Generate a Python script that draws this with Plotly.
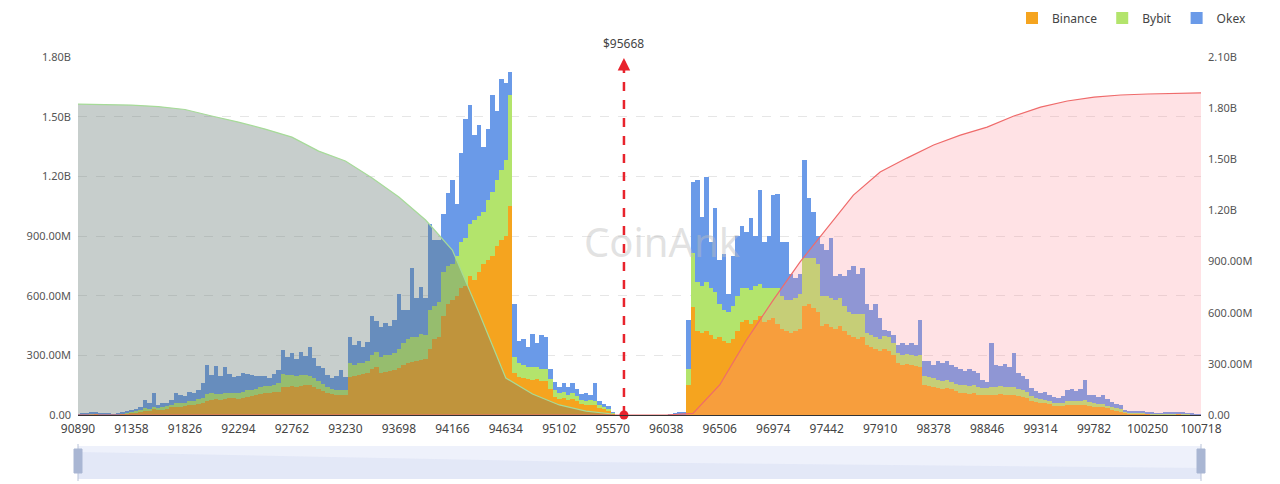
import plotly.graph_objects as go

# ---------------- data ----------------
PRICE_START = 90890
PRICE_STEP = 39
TICK_STEP = 468
N_TICKS = 22
CURRENT_PRICE = 95668

# liquidation volume per price bin, in millions USD
binance = [
    2, 3, 3, 5, 6, 4, 3, 3, 2, 3,
    6, 9, 12, 15, 18, 25, 24, 28, 26, 30,
    32, 38, 42, 42, 44, 48, 50, 55, 60, 72,
    75, 78, 76, 82, 84, 84, 82, 88, 92, 95,
    100, 108, 110, 112, 114, 118, 140, 142, 145, 140,
    148, 150, 150, 140, 130, 120, 110, 105, 100, 102,
    100, 190, 195, 200, 205, 210, 230, 240, 210, 215,
    220, 225, 235, 250, 260, 265, 270, 275, 280, 330,
    380, 390, 500, 560, 580, 600, 640, 650, 700, 680,
    720, 760, 780, 800, 850, 880, 900, 1050, 210, 190,
    185, 180, 175, 180, 170, 170, 130, 90, 80, 85,
    75, 80, 70, 55, 50, 52, 48, 35, 30, 22,
    8, 0, 0, 0, 0, 0, 0, 0, 0, 0,
    0, 0, 0, 1, 1, 3, 3, 150, 543, 420,
    410, 420, 400, 380, 390, 370, 360, 380, 420, 470,
    480, 460, 480, 500, 470, 480, 490, 460, 430, 420,
    410, 420, 430, 550, 560, 540, 520, 450, 460, 440,
    430, 450, 420, 400, 390, 380, 390, 350, 340, 330,
    320, 330, 320, 300, 260, 250, 255, 250, 245, 240,
    150, 145, 140, 135, 130, 135, 130, 120, 110, 110,
    105, 110, 100, 100, 100, 100, 100, 105, 100, 100,
    100, 95, 90, 85, 70, 65, 60, 60, 55, 45,
    45, 45, 50, 50, 48, 50, 50, 45, 40, 40,
    38, 35, 30, 25, 20, 12, 10, 9, 8, 8,
    6, 5, 4, 4, 5, 5, 5, 6, 5, 4,
    3, 2, 1,
]
bybit = [
    1, 1, 1, 2, 2, 1, 1, 1, 1, 1,
    2, 3, 4, 5, 6, 8, 8, 12, 9, 10,
    11, 14, 16, 16, 18, 20, 22, 24, 28, 32,
    34, 30, 32, 30, 28, 25, 28, 30, 32, 33,
    32, 34, 35, 34, 38, 42, 65, 60, 58, 55,
    52, 50, 48, 45, 40, 35, 30, 25, 26, 26,
    26, 70, 55, 60, 55, 60, 70, 75, 80, 85,
    80, 85, 95, 110, 120, 125, 120, 130, 120, 200,
    170, 180, 220, 190, 180, 200, 230, 240, 260, 300,
    280, 260, 300, 320, 330, 350, 380, 560, 80, 70,
    65, 60, 65, 60, 60, 60, 50, 35, 30, 30,
    28, 30, 25, 22, 20, 22, 20, 15, 12, 10,
    3, 0, 0, 0, 0, 0, 0, 0, 0, 0,
    0, 0, 0, 0.5, 1, 2, 2, 80, 271, 250,
    240, 250, 240, 240, 170, 160, 160, 170, 180, 170,
    160, 170, 170, 160, 170, 160, 150, 180, 170, 160,
    170, 170, 180, 240, 230, 250, 240, 150, 140, 150,
    150, 140, 130, 120, 120, 130, 120, 60, 60, 60,
    60, 65, 70, 60, 50, 50, 50, 50, 50, 60,
    45, 45, 45, 40, 40, 40, 35, 35, 40, 40,
    40, 40, 40, 35, 35, 40, 40, 40, 40, 40,
    40, 35, 35, 30, 25, 20, 20, 15, 15, 15,
    15, 15, 20, 22, 22, 20, 25, 20, 18, 15,
    15, 12, 10, 10, 8, 5, 4, 4, 3, 3,
    3, 2, 2, 2, 2, 2, 3, 3, 4, 2,
    2, 1, 1,
]
okex = [
    1, 2, 3, 5, 5, 3, 3, 2, 2, 2,
    5, 8, 10, 12, 15, 42, 26, 69, 15, 18,
    19, 23, 54, 42, 36, 49, 38, 47, 71, 146,
    91, 137, 87, 128, 93, 84, 88, 92, 80, 72,
    62, 55, 50, 40, 55, 66, 120, 90, 110, 85,
    115, 95, 142, 100, 75, 80, 60, 55, 68, 98,
    64, 130, 100, 110, 80, 95, 200, 160, 150, 165,
    150, 170, 280, 170, 150, 350, 200, 240, 190, 430,
    330, 310, 293, 364, 420, 260, 445, 600, 600, 430,
    460, 330, 360, 490, 350, 460, 390, 115, 270, 110,
    130, 100, 165, 120, 170, 160, 50, 40, 30, 45,
    37, 50, 35, 28, 40, 26, 95, 20, 15, 12,
    2, 0, 0, 0, 0, 0, 0, 0, 0, 0,
    0, 0, 0, 3, 4, 8, 8, 250, 357, 510,
    345, 526, 230, 420, 220, 280, 90, 250, 300, 310,
    280, 360, 250, 470, 230, 260, 465, 470, 270, 290,
    130, 100, 100, 490, 300, 230, 140, 260, 230, 300,
    120, 120, 150, 210, 240, 200, 230, 150, 130, 170,
    110, 30, 30, 40, 40, 60, 45, 60, 55, 180,
    75, 80, 65, 95, 90, 95, 85, 85, 80, 70,
    85, 70, 70, 40, 30, 220, 110, 100, 115, 100,
    170, 80, 70, 65, 40, 35, 30, 40, 30, 30,
    25, 35, 55, 58, 50, 60, 100, 35, 45, 35,
    47, 33, 25, 20, 20, 8, 6, 6, 6, 5,
    4, 4, 3, 4, 4, 5, 4, 5, 4, 3,
    3, 2, 1,
]

# cumulative liquidation curves, in billions USD (right axis)
cum_long_price = [90890, 91124, 91358, 91592, 91826, 92060, 92294, 92528, 92762, 92996,
                  93230, 93464, 93698, 93932, 94166, 94400, 94634, 94868, 95102, 95336, 95570]
cum_long_value = [1.824, 1.821, 1.818, 1.809, 1.792, 1.754, 1.718, 1.677, 1.630, 1.548,
                  1.490, 1.390, 1.279, 1.144, 0.968, 0.600, 0.217, 0.123, 0.059, 0.023, 0.006]

cum_short_price = [90890, 96038, 96272, 96506, 96740, 96974, 97208, 97442, 97676, 97910, 98144,
                   98378, 98612, 98846, 99080, 99314, 99548, 99782, 100016, 100250, 100484, 100718]
cum_short_value = [0, 0, 0.010, 0.176, 0.440, 0.674, 0.897, 1.097, 1.290, 1.425, 1.507,
                   1.584, 1.642, 1.689, 1.754, 1.806, 1.842, 1.865, 1.877, 1.883, 1.886, 1.889]

left_ticks = [0, 300e6, 600e6, 900e6, 1200e6, 1500e6, 1800e6]
left_ticktext = ["0.00", "300.00M", "600.00M", "900.00M", "1.20B", "1.50B", "1.80B"]
right_ticks = [0, 300e6, 600e6, 900e6, 1200e6, 1500e6, 1800e6, 2100e6]
right_ticktext = ["0.00", "300.00M", "600.00M", "900.00M", "1.20B", "1.50B", "1.80B", "2.10B"]

assert len(binance) == len(bybit) == len(okex), (len(binance), len(bybit), len(okex))

# ---------------- figure ----------------
prices = [PRICE_START + PRICE_STEP * i for i in range(len(binance))]
x_ticks = [PRICE_START + TICK_STEP * k for k in range(N_TICKS)]
x_end = x_ticks[-1]

fig = go.Figure()
series = [("Binance", binance, "#F5A41F"), ("Bybit", bybit, "#B3E46C"), ("Okex", okex, "#6A9AE8")]
for name, vals, color in series:
    fig.add_bar(x=prices, y=[v * 1e6 for v in vals], name=name, marker_color=color,
                marker_line_width=0, width=PRICE_STEP, yaxis="y")

fig.add_scatter(x=cum_long_price, y=[v * 1e9 for v in cum_long_value], yaxis="y2",
                mode="lines", line=dict(color="#a6db98", width=1.2), fill="tozeroy",
                fillcolor="rgba(100,120,115,0.36)", showlegend=False, hoverinfo="skip")
fig.add_scatter(x=cum_short_price, y=[v * 1e9 for v in cum_short_value], yaxis="y2",
                mode="lines", line=dict(color="#ef6b6b", width=1.2), fill="tozeroy",
                fillcolor="rgba(255,140,150,0.25)", showlegend=False, hoverinfo="skip")
fig.add_scatter(x=[CURRENT_PRICE], y=[0], yaxis="y2", mode="markers",
                marker=dict(color="#e8232c", size=9), showlegend=False, cliponaxis=False,
                hoverinfo="skip")

# page pixel targets (the html body adds an 8px offset)
PAGE_OFF = 8
W, H = 1280, 484
PLOT_L, PLOT_R, TOP_PX, BOT_PX = 78, 1201, 57, 415
PLOT_H = BOT_PX - TOP_PX
PLOT_W = PLOT_R - PLOT_L


def py(px):
    return (BOT_PX - px) / PLOT_H


def pxx(px):
    return (px - PLOT_L) / PLOT_W


shapes = [
    # current price dashed line
    dict(type="line", xref="x", yref="paper", x0=CURRENT_PRICE, x1=CURRENT_PRICE,
         y0=0, y1=py(66), line=dict(color="#e8232c", width=2.5, dash="dash"), layer="above"),
    # data zoom slider background
    dict(type="rect", xref="paper", yref="paper", x0=0, x1=1, y0=py(446), y1=py(479),
         fillcolor="#eef1fb", line=dict(width=0), layer="below"),
    dict(type="path", xref="paper", yref="paper",
         path=f"M 0,{py(452)} L 0.45,{py(462)} L 1,{py(468)} L 1,{py(479)} L 0,{py(479)} Z",
         fillcolor="rgba(205,214,240,0.35)", line=dict(width=0), layer="below"),
]
for hx in (0, 1):
    shapes.append(dict(type="line", xref="paper", yref="paper", x0=hx, x1=hx,
                       y0=py(444), y1=py(481), line=dict(color="#b8c2d8", width=1)))
    shapes.append(dict(type="rect", xref="paper", yref="paper", xsizemode="pixel",
                       xanchor=hx, x0=-4, x1=4, y0=py(449), y1=py(473),
                       fillcolor="#a9b6d3", line=dict(color="#a9b6d3", width=1)))

annotations = [
    dict(x=CURRENT_PRICE, y=py(58), xref="x", yref="paper", text="", showarrow=True,
         arrowhead=2, arrowsize=1, arrowwidth=2.5, arrowcolor="#e8232c", ax=0, ay=14),
    dict(x=CURRENT_PRICE, y=py(43), xref="x", yref="paper", text=f"${CURRENT_PRICE}",
         showarrow=False, font=dict(size=12, color="#444"), yanchor="middle"),
    dict(x=pxx(662), y=py(242), xref="paper", yref="paper", text="CoinAnk",
         showarrow=False, font=dict(size=40, color="rgba(190,190,190,0.45)",
                                    family="Noto Sans"), yanchor="middle"),
]

fig.update_layout(
    width=W, height=H,
    margin=dict(l=PLOT_L - PAGE_OFF, r=W - (PLOT_R - PAGE_OFF), t=TOP_PX - PAGE_OFF,
                b=H - (BOT_PX - PAGE_OFF), autoexpand=False),
    paper_bgcolor="white", plot_bgcolor="white",
    barmode="stack", bargap=0,
    font=dict(family="Noto Sans", size=11, color="#555"),
    showlegend=True,
    legend=dict(orientation="h", x=pxx(1012), y=py(18), xanchor="left",
                yanchor="middle", traceorder="normal", font=dict(size=12, color="#444"),
                bgcolor="rgba(0,0,0,0)", itemwidth=30),
    xaxis=dict(range=[PRICE_START, x_end], tickvals=x_ticks, ticktext=[str(t) for t in x_ticks],
               showgrid=False, zeroline=False, showline=True, linecolor="#333", linewidth=1,
               ticks="", ticklabelstandoff=3, tickfont=dict(size=12, color="#444")),
    yaxis=dict(range=[0, 1.8e9], tickvals=left_ticks, ticktext=left_ticktext,
               showgrid=True, gridcolor="#e6e6e6", griddash="dash", zeroline=False,
               ticks="", ticklabelstandoff=6, tickfont=dict(size=11, color="#555")),
    yaxis2=dict(range=[0, 2.1e9], tickvals=right_ticks, ticktext=right_ticktext,
                overlaying="y", side="right", showgrid=False, zeroline=False,
                ticks="", ticklabelstandoff=6, tickfont=dict(size=11, color="#555")),
    shapes=shapes,
    annotations=annotations,
)

fig.write_html("out.html")
